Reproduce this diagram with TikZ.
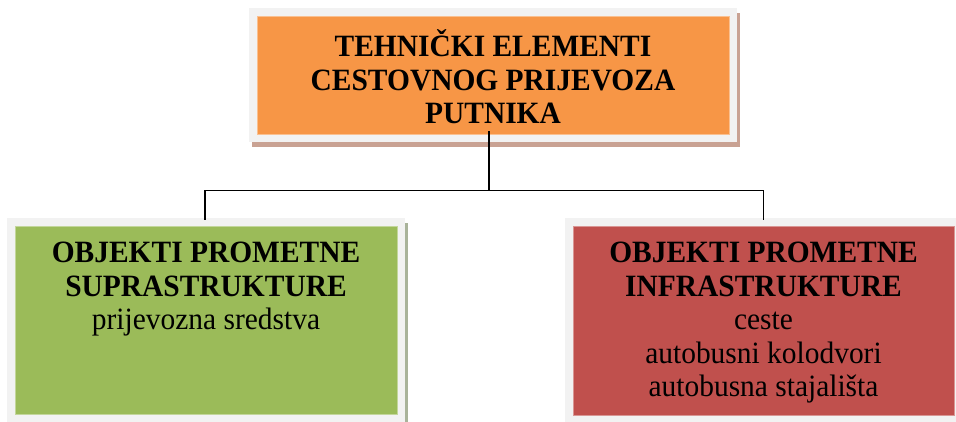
\documentclass[tikz,border=0pt]{standalone}
\usepackage{fontspec}
\setmainfont{Liberation Serif}[FakeStretch=0.95]
\usetikzlibrary{calc,backgrounds}
\definecolor{orangeF}{HTML}{F79646}
\definecolor{greenF}{HTML}{9BBB59}
\definecolor{redF}{HTML}{C0504D}
\definecolor{frameG}{HTML}{F2F2F2}
\definecolor{shadowB}{HTML}{C9A293}
\definecolor{shadowG}{HTML}{A9B39A}
\begin{document}
\begin{tikzpicture}[x=1pt,y=1pt,
  boxbase/.style={rectangle, inner sep=0pt, line width=0.8pt},
  txt/.style={font=\fontsize{31}{33.5}\selectfont, align=center, inner sep=0pt},
  conn/.style={line width=1.6pt, black}]
\useasboundingbox (0,0) rectangle (956,421);
% coloured boxes
\node[boxbase, fill=orangeF, draw=orangeF!60!white, minimum width=472pt, minimum height=118pt] (top) at (493,346) {};
\node[boxbase, fill=greenF, draw=greenF!60!white, minimum width=382pt, minimum height=188pt] (left) at (206,101) {};
\node[boxbase, fill=redF, draw=redF!60!white, minimum width=381pt, minimum height=189pt] (right) at (763.5,100.5) {};
% frames and shadows
\begin{scope}[on background layer]
  \fill[shadowB] ([shift={(-5pt,-13pt)}]top.south west) rectangle ([shift={(11pt,3pt)}]top.north east);
  \fill[frameG] ([shift={(-8pt,-8pt)}]top.south west) rectangle ([shift={(8pt,8pt)}]top.north east);
  \fill[shadowG] ([shift={(-5pt,-13pt)}]left.south west) rectangle ([shift={(11pt,3pt)}]left.north east);
  \fill[frameG] ([shift={(-8pt,-8pt)}]left.south west) rectangle ([shift={(8pt,8pt)}]left.north east);
  \fill[frameG] ([shift={(-8pt,-8pt)}]right.south west) rectangle ([shift={(8pt,8pt)}]right.north east);
\end{scope}
% texts
\node[txt, font=\fontsize{31}{33.5}\selectfont\bfseries] (toptxt) at ([yshift=-2pt]top.center)
  {TEHNIČKI ELEMENTI\\CESTOVNOG PRIJEVOZA\\PUTNIKA};
\node[txt, anchor=north] (lefttxt) at ([yshift=-16.5pt]left.north)
  {\textbf{OBJEKTI PROMETNE}\\\textbf{SUPRASTRUKTURE}\\prijevozna sredstva};
\node[txt, anchor=north] (righttxt) at ([yshift=-16.5pt]right.north)
  {\textbf{OBJEKTI PROMETNE}\\\textbf{INFRASTRUKTURE}\\ceste\\autobusni kolodvori\\autobusna stajališta};
% connectors
\coordinate (j) at ($(top.south)+(-4pt,-56pt)$);
\draw[conn] ([shift={(-4pt,3pt)}]top.south) -- (j);
\draw[conn] ([shift={(-1pt,6pt)}]left.north) |- (j) -| ([yshift=6pt]right.north);
\end{tikzpicture}
\end{document}
